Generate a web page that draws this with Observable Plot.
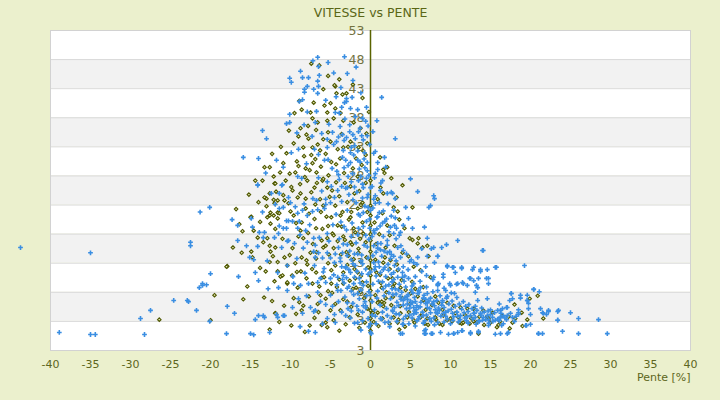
<!DOCTYPE html>
<html>
<head>
<meta charset="utf-8">
<script src="https://cdn.jsdelivr.net/npm/d3@7"></script>
<script src="https://cdn.jsdelivr.net/npm/@observablehq/plot@0.6"></script>
<style>
  html, body { margin: 0; padding: 0; background: #EBF0CD; }
  #chart { width: 720px; height: 400px; }
</style>
</head>
<body>
<div id="chart"></div>
<script>
const title = "VITESSE vs PENTE";
const xLabel = "Pente [%]";
const xTicks = [-40, -35, -30, -25, -20, -15, -10, -5, 0, 5, 10, 15, 20, 25, 30, 35, 40];
const yTicks = [53, 48, 43, 38, 33, 28, 23, 18, 13, 8, 3, -2];
const yTickLabels = ["53", "48", "43", "38", "33", "28", "23", "18", "13", "8", "3", "3"];

const blueLeft = [
[-43.75,15.7],[-35,14.8],[-38.9,1.1],[-35,0.75],[-34.4,0.75],[-28.25,0.75],[-27.5,4.9],[-28.75,3.5],[-24.6,6.6],[-22.9,6.6],
[-21.3,21.8],[-20.1,22.6],[-17.3,20.5],[-14.9,20.7],[-16.6,19.5],[-14.1,26.4],[-13.5,21.8],[-12.4,25.0],[-11.4,25.0],[-11.9,23.1],
[-11,26.5],[-10.5,20.3],[-10.5,19.0],[-11.4,22.4],[-14.75,19.2],[-13.9,18.3],[-13.25,18.3],[-11.5,18.1],[-13.4,17.4],[-12,17.4],
[-22.5,16.6],[-22.5,16.0],[-16.6,16.9],[-15.5,16.0],[-14.1,15.9],[-15.1,14.0],[-14.6,13.6],[-11.1,15.7],[-10.4,16.8],[-20,11.2],
[-16.5,10.7],[-14.4,11.4],[-14,10.0],[-11.6,11.4],[-10.4,12.6],[-21,9.5],[-21,9.2],[-21.4,8.8],[-20.5,9.3],[-11.5,8.8],
[-10.4,8.3],[-22.75,6.4],[-21.75,4.9],[-17.9,5.6],[-17,4.4],[-20.1,3.0],[-14,4.0],[-13.25,3.7],[-14.4,3.3],[-11.75,4.2],
[-10.75,4.0],[-18,0.9],[-15,0.9],[-14.6,0.7],[-12.6,1.1],
[-6.6,48.4],[-3.25,48.5],[-6.5,46.8],[-2.9,45.6],[-10.1,44.8],[-9.9,44.1],[-8.75,46.0],[-8.5,44.9],[-7.75,44.9],[-6.4,45.3],
[-6.6,44.3],[-8.25,42.9],[-8.25,42.4],[-7.9,43.4],[-7.1,42.9],[-6.5,43.4],[-6.6,42.2],[-8.5,41.1],[-8.9,40.8],[-3,41.3],
[-3.25,40.6],[-3.6,39.8],[-4.4,38.9],[-3.9,38.8],[-2.5,39.6],[-3,40.8],[-6.75,39.1],[-10.1,38.6],[-10.1,37.2],[-10.5,37.0],
[-13.5,35.8],[-13,34.4],[-6.9,37.2],[-6.1,35.3],[-5.4,34.3],[-4.75,35.5],[-4.25,33.9],[-3.5,35.1],[-3,34.6],[-2.6,35.6],
[-1.9,34.4],[-1.1,34.9],[-15.9,31.2],[-14,31.0],[-11.75,30.7],[-10.9,29.5],[-9.9,32.0],[-9,32.6],[-7,32.6],[-6.5,31.7],
[-5.4,32.9],[-5.75,30.7],[-3.1,30.7],[-2.5,32.0],[-1.6,30.7],[-0.75,32.0],[-0.4,30.3],[-14.1,26.5],[-11.1,26.4],[-9.1,27.9],
[-8.6,27.6],[-6.5,27.7],[-2.25,28.4],[-1.5,27.2],[-2.9,26.0],[-0.9,26.0],[-4.1,25.5],
[-11.4,19.4],[-10.9,19.0],[-9.75,20.2],[-10.25,20.3],[-8.9,20.2],[-9.1,21.6],[-8.5,22.1],[-7.9,21.2],[-7.25,21.9],[-6.6,22.2],
[-5.75,22.4],[-6.75,23.8],[-5.6,24.0],[-5,23.4],[-10,23.4],[-9.4,22.7],[-10.25,24.3],[-10.9,22.6],[-9.1,19.0],[-8.1,18.6],
[-7.1,17.3],[-7.9,16.6],[-6.4,17.4],[-5.4,18.1],[-10.25,16.9],[-9.5,16.4],[-8.4,15.6],[-7.1,15.0],[-6.5,14.8],[-6,13.9],
[-6.9,14.0],[-5.4,14.8],[-5,13.9],[-4.5,13.1],[-3.75,13.3],[-3.1,12.4],[-2.5,11.4],[-3.4,10.9],[-4.1,10.6],[-5,10.4],
[-6.25,10.4],[-5.6,9.7],[-6.6,9.7],[-7.75,9.5],[-8.75,9.2],[-9.6,9.5],[-6.6,8.0],[-5,7.5],[-4.1,8.3],[-2.9,8.7],
[-2.1,9.5],[-1.6,7.8],[-0.9,9.2],[-0.9,5.7],[-1.5,4.9],[-2.9,6.2],[-4,6.4],[-4.75,5.6],[-6.25,6.4],[-7.5,5.4],
[-7.1,4.7],[-6.9,4.9],[-8.5,4.4],[-9.75,5.4],[-10.9,4.0],[-11.6,3.7],[-13.4,4.0],[-5.4,3.5],[-4.4,2.8],[-7.75,1.3],
[-6.9,1.1],[-3.1,4.0],[-1.6,2.8],[0,1.1],[0,2.6],[0,7.5],[0,11.5]
];

const blueCore = [
[-3.8,36.5],[-3.2,37.8],[-2.6,36.8],[-1.9,38.2],[-1.3,36.2],[-0.6,37.4],[-3.5,31.2],[-2.8,29.8],[-2.1,31.6],[-1.4,29.2],
[-0.8,30.9],[-0.2,28.1],[-3.9,27.4],[-3.1,25.9],[-2.4,27.0],[-1.7,25.2],[-1.0,26.6],[-0.3,24.8],[-3.6,23.6],[-2.9,22.1],
[-2.2,23.9],[-1.5,21.4],[-0.7,22.8],[-0.1,20.6],[-3.7,20.1],[-3.0,18.7],[-2.3,19.9],[-1.6,17.9],[-0.9,19.3],[-0.2,17.1],
[-3.4,16.3],[-2.6,15.1],[-1.8,16.5],[-1.1,14.4],[-0.4,15.8],[-3.8,13.9],[-3.1,12.2],[-2.4,13.6],[-1.7,11.6],[-1.0,12.9],
[-0.3,11.1],[-3.5,10.2],[-2.7,9.0],[-2.0,10.6],[-1.2,8.4],[-0.5,9.8],[-3.2,7.2],[-2.2,6.1],[-1.4,6.9],[-0.6,5.3],
[-2.5,3.6],[-1.0,3.1],[-4.6,33.4],[-5.3,30.8],[-4.9,26.2],[-5.6,23.1],[-4.7,19.6],[-5.2,16.8],[-4.4,14.6],[-5.8,12.1],
[-4.2,28.8],[-3.3,34.1],[-2.0,33.2],[-0.9,34.2],[-1.5,35.6],
[-0.4,34.9],[0.6,32.2],[0.4,31.9],[0.9,30.3],[1.9,29.5],[1.5,27.2],[2.1,25.0],[2.6,25.2],[2.75,25.0],[3.1,24.1],
[0.3,22.5],[0.8,20.9],[1.2,19.4],[0.5,18.2],[1.6,17.6],[2.1,16.1],[0.9,15.6],[1.4,14.2],[2.5,13.8],[3.0,12.6],
[0.4,13.1],[1.8,12.3],[2.6,11.1],[3.4,10.6],[4.2,9.9],[0.7,10.8],[1.5,9.8],[2.3,9.3],[3.1,8.6],[3.9,8.0],
[4.7,7.6],[5.5,7.1],[0.9,8.2],[1.7,7.4],[2.5,6.9],[3.3,6.3],[4.1,5.8],[4.9,5.3],[5.7,5.0],[6.5,4.6],
[1.2,5.8],[2.0,5.2],[2.8,4.7],[3.6,4.2],[4.4,3.9],[5.2,3.6],[6.0,3.4],[6.8,3.1],[7.6,3.0],[8.4,2.8],
[9.2,2.9],[10.0,2.6],[0.6,3.9],[1.4,3.4],[0.2,6.4],[0.3,9.4],[0.2,26.2],[0.6,24.6],[1.1,23.4],[1.6,22.0],
[2.0,20.6],[2.5,19.2],[3.2,17.2],[3.8,16.0],[4.5,14.6],[5.1,13.6],[5.8,12.8],[6.4,11.6],[7.0,10.9],[7.8,10.2],
[8.5,9.5],[9.2,8.7],[10.1,7.9],[10.8,7.1],[11.6,6.4],[12.3,5.9],[13.1,5.6],[13.9,5.3],[14.7,4.8],[15.5,4.5],
[16.3,4.4],[17.1,4.0],
[5.0,5.9],[5.6,6.4],[6.2,5.5],[6.9,6.1],[7.4,5.2],[8.0,5.7],[8.6,4.9],[9.2,5.4],[5.4,4.3],[6.1,3.8],
[7.0,4.1],[7.9,3.6],[8.8,3.9],[9.6,3.4],[10.4,3.8],[11.2,3.3],[12.0,3.1],[12.8,3.4],[13.6,3.0],[14.4,3.3],
[15.3,3.0],[16.1,3.1],[17.0,3.3],[4.6,6.8],[5.3,7.9],[6.0,8.3],[6.7,7.5],[7.5,7.0],[8.3,6.6],[9.0,6.3],
[9.8,6.0],[10.6,5.6],[11.4,5.1],[12.2,4.7],[13.0,4.4],[13.8,4.1],[14.6,4.0],[3.2,7.7],[2.7,8.6]
];

const blueExtra = [
[-3.6,26.2],[-2.7,24.8],[-1.8,23.4],[-0.9,21.7],[-0.1,19.0],[-3.3,19.3],[-2.4,17.6],[-1.5,19.0],[-0.6,17.8],[-3.9,17.2],
[-2.9,16.2],[-2.0,14.6],[-1.2,13.4],[-0.3,13.9],[-3.5,14.8],[-2.7,11.9],[-1.9,12.6],[-1.1,11.2],[-0.2,8.1],[-3.0,10.5],
[-2.1,7.6],[-1.3,9.6],[-0.5,7.4],[-3.7,8.3],[-2.4,4.8],[-1.0,4.6],[-0.3,3.5],[-4.3,21.4],[-4.5,24.3],[-4.0,28.2],
[-3.3,29.4],[-2.5,30.3],[-1.6,32.3],[-0.7,29.4],[-1.2,27.9],[-4.8,29.3],[-5.4,27.0],[-6.1,25.4],[-7.2,24.1],[-8.3,23.2],
[-7.6,19.6],[-8.8,17.9],[-6.9,16.1],[-5.9,11.5],[-7.0,12.6],[-8.2,11.3],[-9.2,13.8],[-9.0,6.9],[-8.0,7.4],[-5.6,5.9],
[-4.5,4.2],[-6.0,2.6],[-8.8,2.1],[-9.7,10.7],[-12.8,8.6],[-12.9,13.4],[-13.1,28.5],[-8.0,30.1],[-7.3,34.8],[-8.3,36.8],
[-9.2,35.4],[-5.2,36.9],[-4.3,41.6],[-5.6,41.0],[-7.9,39.0],
[0.4,16.0],[1.0,13.2],[1.6,11.9],[2.2,12.8],[2.9,10.2],[3.6,9.4],[4.4,8.9],[5.1,8.4],[5.9,7.8],[6.6,7.0],
[7.3,6.5],[8.1,5.0],[8.9,5.8],[9.7,4.8],[10.8,4.6],[11.7,4.5],[12.5,4.0],[13.3,4.9],[14.2,4.6],[15.0,4.2],
[15.9,3.4],[16.8,3.6],[17.5,4.4],[18.2,3.9],[0.8,7.0],[1.6,8.6],[2.3,7.9],[3.0,5.4],[3.8,6.8],[4.5,5.2],
[5.4,5.4],[6.3,6.3],[7.1,5.4],[8.2,4.5],[9.4,3.9],[10.3,3.2],[11.0,2.9],[0.5,5.0],[1.8,2.8],[2.6,3.6],
[3.3,3.0],[4.9,4.1],[5.8,3.1],[6.6,2.7],[7.4,3.5],[8.0,2.4],[12.2,2.7],[13.2,2.5],[14.8,2.7],[16.6,2.6],
[18.0,3.0],[0.3,14.3],[1.3,16.4],[2.4,15.0],[3.2,13.4],[4.0,11.4],[4.7,11.9],[5.6,10.7],[6.2,9.9],[7.0,8.9],
[7.8,8.1],[8.7,7.4],[9.5,7.0],[10.2,6.5],[11.1,6.0],[11.9,5.6],[12.7,5.2],[3.1,20.8],[2.2,23.2],[1.3,26.8],
[0.5,27.7],[0.9,29.1],[-0.1,33.4],[0.3,35.6],[0.8,37.5],[-0.5,39.8],[-1.2,42.3],[-2.2,44.4],[-1.8,46.7],
[0.2,17.6],[0.7,14.9],[1.1,12.4],[1.9,10.7],[2.7,9.8],[3.5,8.4],[4.3,7.1],[5.0,6.5],[5.8,5.7],[0.5,11.9],
[1.0,9.9],[1.9,9.1],[2.8,7.6],[3.7,7.3],[4.6,6.0],[5.5,4.8],[0.8,18.9],[1.7,15.1],[2.6,14.5],[3.5,12.0],
[4.3,10.8],[5.2,9.1],[6.1,8.0],[6.9,6.8],[7.7,6.0],[8.5,5.3],[9.4,4.6],[10.1,5.1],[10.9,3.9],[11.8,3.6],
[0.2,4.1],[0.7,2.6],[1.5,4.6],[2.4,2.1],[3.2,4.3],[4.1,3.4],[4.8,2.6],[5.6,2.2],[0.4,24.0],[1.1,21.7],
[1.8,20.2],[2.3,18.4],[3.0,19.5],[3.6,17.8],[-0.5,20.2],[-1.3,21.2],[-0.8,16.1],[-1.6,14.6],[-0.6,12.0],[-1.4,10.4],
[-2.2,12.9],[-2.9,14.3],[-3.6,12.4],[-4.0,15.7],[-4.6,11.0],[-4.2,9.3],[-3.3,9.6],[-2.4,8.2],[-0.7,6.4],[-1.7,5.6],
[-2.8,5.2],[-3.6,4.6],[-0.2,2.1],[-1.2,1.5],[-2.0,2.7],[-0.3,22.6],[-1.0,24.2],[-2.0,26.1],[-2.8,27.9],[-0.5,27.6],
[-1.3,30.4],[-2.4,32.9],[-3.4,32.4],[-4.0,34.7],[-2.2,35.1],[-1.0,37.9],[-0.3,36.6],[-1.6,39.4],[-2.3,41.5],[-3.7,43.2],
[-4.6,45.7],[-5.3,47.5],[-7.2,47.8]
];

const blueRight = [
[3.1,34.4],[1.4,41.5],[1.75,31.2],[5.9,25.3],[8,24.1],[7.5,22.9],[4.4,22.6],[2.9,22.1],[2.6,21.1],[4.75,20.7],
[4.1,19.5],[5.25,19.0],[6.75,19.2],[3.25,19.0],[3.75,18.3],[2.9,18.1],[7.1,17.3],[6.4,15.5],[7.6,15.5],[7.9,15.7],
[8.9,15.7],[9.5,16.2],[8.4,14.2],[10.9,16.9],[14.1,15.2],[7.1,14.2],[5.9,14.0],[5.4,13.1],[8,13.1],[6.9,12.4],
[9.6,12.4],[10.25,12.3],[11.4,12.3],[12.9,12.3],[13.75,11.9],[15.6,12.3],[19.25,12.6],[9.1,10.6],[10.6,11.4],[11.6,9.5],
[12.5,10.4],[13.5,10.4],[14.75,10.4],[14.75,9.5],[13.4,8.8],[13.1,8.0],[12.1,9.2],[10.9,9.5],[10,9.2],[9.4,8.3],
[8.4,9.2],[17.6,7.8],[18.75,7.0],[19.6,7.5],[20.4,8.5],[21.1,8.1],[19.6,6.6],[17,5.4],[16.25,4.9],[18.5,4.5],
[18.5,4.2],[19.75,5.2],[20,4.2],[21.25,5.2],[21.6,4.4],[22,4.2],[22.25,4.9],[23.5,4.9],[23.4,3.2],[20,2.5],
[19.4,2.3],[21,0.9],[21.5,0.9],[15.6,0.8],[16.25,0.9],[17.1,0.9],[17.25,1.1],[14.75,2.3],[13.5,1.1],[12.5,0.9],
[11.5,1.4],[10.9,1.1],[10.4,0.9],[9.75,0.8],[7.75,0.9],[6.9,0.9],[6.9,1.6],[3.75,0.9],[4,2.5],[2.25,2.9],
[1.25,3.5],[0.1,0.9],[-0.6,5.7],
[5.75,4.5],[6.6,4.0],[7.5,4.5],[8.4,4.4],[9.1,4.4],[10.25,4.4],[11.25,4.0],[12.1,3.8],[13.1,3.7],[14.1,3.7],
[15.25,3.7],[16.25,3.7],[16.6,4.0],[17.75,3.7],[6,5.4],[5.25,6.2],[4.6,7.3],[4.1,6.6],[3.5,5.7],[2.75,4.9],
[2.1,4.0],[7.1,6.2],[7.9,6.4],[9,6.6],[9.6,7.3],[10.5,7.8],[7.1,7.8],[8.4,8.3],[6.25,8.8],[5.4,9.5],
[4.75,10.4],[4,10.6],[2.9,11.4],[2.25,11.8],[1.25,11.4],[0.6,12.4],[4.1,12.4],[4.9,13.3],[3.75,14.0],[2.9,14.2],
[2.1,14.8],[1.25,15.3],[0.9,16.4],[2.1,16.9],[3.4,15.7],[4.1,15.2],[0.4,18.6],[1.5,19.9],[0.9,21.0],[0,22.1],
[-0.4,24.3],[0.6,23.3],[1.25,25.5],[0,26.0],[-0.4,28.9],[0.6,28.4],
[14,15.2],[20.4,8.5],[25,4.5],[26,3.5],[28.5,3.3],[29.6,0.9],[26,0.9],[24,1.3],[23.4,4.7],[22.25,4.7],
[21.5,4.5],[23.4,3.2],[21,0.9],[19.6,6.6],[19.75,6.1],[18.5,5.0],[19.5,2.3],[18.75,7.5],[17.6,7.8],[17.4,6.6],
[17.1,5.4],[16.5,5.2],[16.25,3.7],[16.4,2.3],[14.6,6.9],[13.4,6.6],[13.5,1.3],[12.5,1.1],[11.4,1.4],[10.4,0.9],
[8.75,1.1],[7.6,0.9],[6.75,1.4],[6.75,0.9],[4,0.9],[4.1,2.5],[14.6,11.9],[15.75,12.3],[12.75,11.9],[11.4,12.1],
[10.4,12.3],[9.6,12.6],[9.1,11.1],[8.4,14.2],[13.75,11.6],[14.5,10.4],[13.25,9.2],[12.9,10.0],[12.4,10.4],[11.5,9.7],
[10.75,9.4],[9.9,9.5],[8.4,9.4],[7.9,10.6],[17.75,6.9],[16.1,6.0],[15.9,4.9],[15,5.0],[13.75,4.4],[12.9,4.4],
[15.6,3.2],[14.75,3.3],[14,3.2],[13.5,3.0],[7.9,24.6],[5,27.5],[7.3,22.6]
];

const oliveLeft = [
[-26.4,3.3],[-20,3.2],[-19.5,7.5],[-17.9,12.5],
[-14.4,27.2],[-13.5,27.2],[-12,26.7],[-12.6,25.0],[-13,24.1],[-13.25,24.3],[-12.1,23.9],[-11.6,23.8],[-13,22.8],[-12,23.3],
[-11.6,21.7],[-12.5,21.7],[-14.9,21.0],[-12.6,21.2],[-12.1,21.2],[-11.4,21.6],[-12.5,19.8],[-16.4,19.7],[-16,18.5],[-14.6,18.6],
[-12.9,17.3],[-11.9,15.7],[-10.75,14.0],[-12.5,15.0],[-16.1,14.8],[-14.9,15.0],[-12.6,13.2],[-18,12.4],[-11.6,11.6],[-11.25,10.7],
[-10.4,9.5],[-15.9,6.8],[-11.9,4.4],[-11.4,2.9],
[-6.4,47.0],[-4.4,43.4],[-4.5,43.6],[-3.5,42.0],[-4.25,42.2],[-3,42.2],[-7.1,40.6],[-5.75,40.1],[-5,40.5],[-7.5,38.9],
[-5.4,38.9],[-4.4,39.6],[-3.75,38.8],[-7.25,37.9],[-6.6,37.2],[-5.4,37.5],[-4.6,37.9],[-3.4,37.5],[-2.1,37.2],[-8.75,36.2],
[-8,35.1],[-7.75,34.4],[-9,34.8],[-8.4,32.9],[-7.25,32.9],[-6.6,33.4],[-5.9,34.3],[-5,33.9],[-4.1,32.6],[-3.4,32.9],
[-2.5,33.9],[-1.5,32.9],[-0.4,33.6],[-0.5,35.3],[-1.25,36.2],[-13.25,29.5],[-12.6,29.5],[-12.1,27.9],[-11.9,26.7],[-10.9,30.2],
[-10.1,28.4],[-9.4,28.6],[-8.1,29.3],[-7.25,30.2],[-6.75,28.6],[-7.9,27.2],[-7,26.0],[-6,27.2],[-5.25,28.1],[-5.4,26.0],
[-9.75,25.5],[-8.75,25.0],[1.25,26.0],[1.6,25.0],[0,27.2],
[-10.75,23.8],[-10.25,23.3],[-9.1,24.3],[-8.1,24.1],[-12.9,20.9],[-11.6,20.7],[-8.75,18.6],[-8.4,17.3],[-9.75,15.6],[-8.6,14.0],
[-8,13.5],[-7.5,14.8],[-6.75,14.9],[-5.9,15.7],[-5.4,17.3],[-4.6,15.6],[-4.75,18.1],[-4.1,19.5],[-3.75,21.2],[-4.4,22.9],
[-3.4,17.6],[-2.75,14.3],[-3.4,9.5],[-2.9,6.4],[-3.75,4.9],[-2.6,3.7],[-5,4.9],[-6.25,7.5],[-7.25,9.5],[-9.1,8.8],
[-9.6,7.0],[-8.6,4.9],[-8.4,5.7],[-5.6,2.8],[-5.4,2.0],[-3.9,1.4],[-11.9,4.4],[-12.6,1.6],[-10.4,9.7],[-11,10.9],
[-10.4,12.6],[-11.6,13.2],[-12.6,16.0],[-13.4,16.6],[-14.1,17.4],[-15,20.9],[-14.75,14.0],[-1.9,10.4],[-1.25,8.0],[-1.6,11.4],
[-0.6,7.5],[-1,9.7],[-1,23.4],[-1.6,22.4],[-2.5,20.9],[-2.1,19.0],[-2.5,16.6],[-1.5,14.8],[-1.25,13.3],[-0.6,16.6],[-0.9,18.1]
];

const oliveCore = [
[-3.6,35.2],[-2.8,33.0],[-1.8,31.0],[-0.9,32.3],[-3.3,28.5],[-2.5,26.2],[-1.6,27.9],[-0.6,26.8],[-3.9,24.5],[-2.9,23.5],
[-2.0,25.0],[-1.2,23.0],[-0.4,21.8],[-3.5,21.8],[-2.7,20.5],[-1.9,18.3],[-1.0,20.0],[-3.2,17.0],[-2.3,16.2],[-1.5,15.5],
[-0.5,14.0],[-3.7,14.5],[-2.9,12.7],[-2.0,12.0],[-1.2,10.8],[-0.3,12.3],[-3.4,11.4],[-2.6,10.0],[-1.8,8.8],[-0.8,7.0],
[-2.4,5.5],[-1.6,4.2],[-0.7,2.8],[-3.1,2.5],[-4.4,6.0],[-4.9,9.5],[-5.3,13.0],[-4.6,17.8],[-5.5,21.0],[-4.8,25.5],
[-5.9,27.5],[-4.3,30.0],[-6.3,24.0],[-6.8,19.0],[-7.3,12.0],[-6.1,10.5],[-6.6,6.0],
[0,22.9],[0,21.2],[0,19.5],[0,16.9],[0,13.5],[0,10.9],[0,8.3],[0,6.6],[0,4.9],[0,3.5],
[0,2.3],[0,1.4],[0,15.0],[0,12.0],[0,18.0]
];

const oliveExtra = [
[-9.2,30.5],[-8.3,31.4],[-7.6,29.0],[-6.9,30.9],[-6.2,29.6],[-5.6,31.8],[-4.9,30.4],[-8.8,26.6],[-7.4,25.2],[-6.7,26.8],
[-5.1,24.4],[-4.3,26.9],[-9.6,21.2],[-8.1,22.4],[-7.0,20.6],[-6.2,21.8],[-5.3,19.4],[-9.0,17.6],[-7.8,18.2],[-6.0,18.9],
[-5.6,16.0],[-9.4,13.0],[-8.7,11.6],[-7.9,12.8],[-6.8,11.4],[-5.8,10.6],[-4.9,11.8],[-4.2,8.9],[-5.3,8.2],[-6.4,9.0],
[-7.7,7.3],[-8.9,6.3],[-7.0,3.6],[-6.1,2.4],[-4.6,3.2],[-3.4,6.8],[-2.2,8.6],[-3.0,14.9],[-2.1,13.7],[-1.3,17.2],
[-2.4,21.8],[-1.4,25.4],[-3.2,26.8],[-2.2,29.3],[-1.1,29.9],[-0.6,31.6],[-3.8,31.0],[-0.3,9.1],[-0.4,5.2],[-1.4,1.9],
[0.4,2.9],[1.3,9.6],[2.8,7.2],[3.7,5.6],[4.4,8.4],[5.2,9.8],[6.6,8.9],[7.7,5.8],[9.0,5.0],[10.6,4.4],
[11.8,4.1],[13.6,3.8],[14.8,3.4],[16.2,3.0],[12.6,3.5],[9.6,3.2],[8.6,2.6],[6.8,2.6],[4.3,2.1],[2.4,2.6],
[-10.2,35.8],[-9.5,38.8],[-8.6,39.4],[-11.2,33.0],[-12.3,31.8],[-14.0,23.5],[-15.2,24.8],[-16.8,22.3],[-13.8,12.2],[-15.4,9.0],
[-13.3,7.1],[-17.2,15.7],[-9.9,2.3],[-8.2,1.2],[2.1,19.5],[3.0,16.0],[2.6,27.6],[1.2,31.2],[-0.2,39.0],[-1.0,41.4],
[-2.2,43.7],[-5.3,45.2],[-7.4,47.3],
[-11.3,28.6],[-10.6,27.2],[-9.9,26.1],[-9.0,29.7],[-8.2,27.8],[-10.9,24.7],[-10.0,21.9],[-9.3,19.9],[-11.9,18.9],[-11.0,17.2],
[-10.1,14.4],[-9.2,11.5],[-8.0,10.4],[-9.8,10.9],[-12.0,9.9],[-13.1,11.6],[-12.3,6.5],[-10.8,5.7],[-9.3,4.3],[-7.6,2.3],
[-6.5,4.6],[-5.6,6.9],[-4.8,7.9],[-6.8,13.8],[-7.2,16.3],[-6.1,16.9],[-5.2,14.5],[-4.4,12.6],[-3.9,10.2],[-4.1,16.8],
[-3.6,19.3],[-4.9,20.9],[-5.9,22.9],[-6.9,23.1],[-7.7,21.5],[-8.6,20.0],[-7.4,31.6],[-6.3,32.4],[-5.3,35.5],[-6.8,35.9],
[-7.8,36.6],[-9.6,33.6],[-10.5,31.9],[-11.8,25.3],[-13.8,20.1],[-12.2,14.2],[-8.9,40.9],[-5.9,42.9],[-3.9,44.6],[2.8,9.0],
[3.9,10.1],[5.6,8.6],[6.9,5.0],[4.9,6.0],[12.9,3.0],[14.6,3.8],[18.9,4.5]
];

const oliveRight = [
[0.9,4.5],[1.5,3.5],[1.6,5.6],[1,6.4],[1.9,7.0],
[0.5,20.0],[1.1,18.0],[0.7,16.3],[1.8,14.0],[2.4,12.0],[1.2,11.0],[3.0,9.5],[2.0,8.0],[4.0,7.0],[2.6,5.8],
[3.5,3.3],[4.8,4.6],[5.5,2.8],[6.3,4.0],[7.2,2.4],[8.2,3.3],[9.0,2.4],[10.2,3.0],[11.0,3.7],[12.4,2.6],
[13.3,2.9],[14.2,2.4],[15.0,2.8],[16.0,2.4],[0.3,4.5],[1.0,2.2],[1.7,6.2],[2.2,10.4],[3.3,12.8],[0.6,13.6],
[1.5,21.6],[0.9,24.0],
[4,26.4],[5.25,22.6],[3.4,21.9],[2.9,22.6],[1.6,29.1],[1.75,28.5],[2.1,29.5],[3.6,20.5],[4.25,19.0],[4.9,17.3],
[5.25,17.0],[6,17.3],[5.9,16.4],[6.5,15.7],[7.1,16.0],[7.25,14.2],[7.5,10.6],[6.25,11.8],[5.4,12.4],[4.75,14.2],
[4,14.8],[3.4,11.8],[2.75,10.4],[3.75,8.8],[5,7.8],[5.9,7.3],[6.6,6.6],[8.1,7.3],[8.5,6.2],[9.6,6.2],
[10.4,5.7],[11.25,5.4],[12.1,5.2],[12.9,5.2],[14.1,4.9],[15.25,4.5],[16.5,4.0],[17.25,3.8],[18.1,3.5],[19.6,3.3],
[17.75,2.8],[11.1,2.8],[11.4,2.6],[11.6,2.8],[10,3.5],[9.1,4.0],[8.1,3.7],[7.1,3.5],[6.25,3.7],[5.4,3.2],
[4.6,3.7],[3.75,4.4],[2.9,3.7],[3.4,2.8],[3.6,1.6],[13.5,0.9],[1.4,8.8],[0.6,7.5],[0.9,6.2],[1.4,6.4],
[0.75,11.4],[1.6,13.1],[2.5,13.5],[1.9,15.7],[2.4,17.8],[3.25,24.3],
[19.9,6.9],[20.9,7.4],[18.0,5.9],[21.6,3.5],[19.0,2.2],[15.8,2.0],[17.4,1.8]
];

const blue = [...blueLeft, ...blueCore, ...blueExtra, ...blueRight];
const olive = [...oliveLeft, ...oliveCore, ...oliveExtra, ...oliveRight];

const bands = yTicks.slice(0, -1).map((hi, i) => ({hi, lo: yTicks[i + 1], k: yTicks.length - 2 - i}));
const tickRows = yTicks.map((v, i) => ({v, label: yTickLabels[i]}));

const chart = Plot.plot({
  width: 720,
  height: 400,
  marginLeft: 50,
  marginRight: 30,
  marginTop: 30,
  marginBottom: 50,
  style: {background: "transparent", fontFamily: "DejaVu Sans, sans-serif"},
  x: {domain: [-40, 40], axis: null},
  y: {domain: [-2, 53], axis: null},
  marks: [
    Plot.rect(bands, {y1: "lo", y2: "hi", fill: d => d.k % 2 ? "#f2f2f2" : "#ffffff"}),
    Plot.ruleY(yTicks, {stroke: "#dadada", strokeWidth: 1}),
    Plot.frame({stroke: "#d2d2d2"}),
    Plot.axisX({ticks: xTicks, tickSize: 0, tickPadding: 10, fontSize: 11, color: "#5d6620", label: null, tickFormat: d => String(d)}),
    Plot.text(tickRows, {x: 0, y: "v", text: "label", textAnchor: "end", dx: -6, fill: "#72723f", fontSize: 12.5}),
    Plot.ruleX([0], {stroke: "#5a6300", strokeWidth: 1.5}),
    Plot.dot(olive, {x: d => d[0], y: d => d[1], symbol: "diamond2", r: 1.6, fill: "#e4e6b4", stroke: "#4f5800", strokeWidth: 1.1}),
    Plot.dot(blue, {x: d => d[0], y: d => d[1], symbol: "cross", r: 2.0, fill: "#3a8ee2", stroke: "none"}),
    Plot.text([title], {frameAnchor: "top", dy: -22, fontSize: 12.5, fill: "#5a6616"}),
    Plot.text([xLabel], {frameAnchor: "bottom-right", dy: 30, textAnchor: "end", fontSize: 11, fill: "#5d6620"})
  ]
});
document.getElementById("chart").append(chart);
</script>
</body>
</html>
